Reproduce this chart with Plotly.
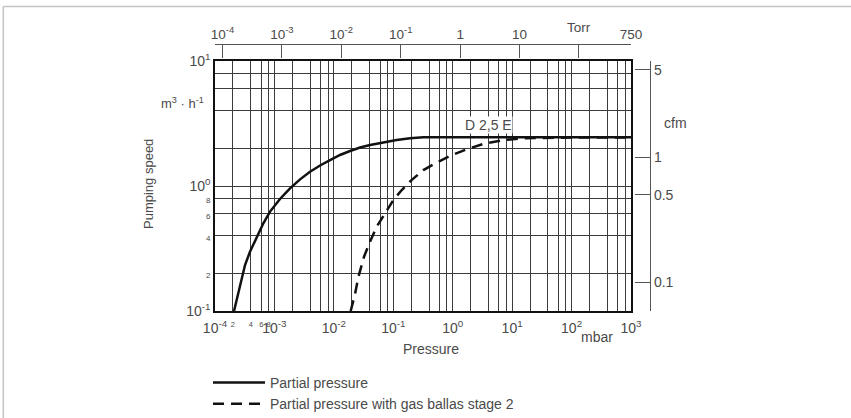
import math
import plotly.graph_objects as go

# ---------------- data ----------------
# Partial pressure curve: pressure [mbar] vs pumping speed [m3/h]
mbar_solid = [2.09e-4, 2.57e-4, 3.20e-4, 3.88e-4, 5.02e-4, 6.51e-4, 8.44e-4,
              1.24e-3, 1.83e-3, 2.70e-3, 3.97e-3, 5.86e-3, 8.63e-3, 0.0127,
              0.0187, 0.0276, 0.0407, 0.0682, 0.114, 0.192, 0.321, 1.0, 10.0,
              100.0, 1000.0]
speed_solid = [0.10, 0.152, 0.233, 0.298, 0.393, 0.503, 0.624, 0.787, 0.958,
               1.13, 1.30, 1.46, 1.61, 1.77, 1.905, 2.03, 2.13, 2.24, 2.33,
               2.41, 2.45, 2.45, 2.45, 2.45, 2.45]

# Partial pressure with gas ballast stage 2
mbar_gas = [0.0192, 0.0228, 0.0259, 0.0322, 0.0407, 0.0527, 0.0728, 0.1005,
            0.139, 0.205, 0.321, 0.539, 0.904, 1.73, 3.29, 7.14, 15.5, 33.6,
            100.0, 1000.0]
speed_gas = [0.10, 0.138, 0.188, 0.272, 0.359, 0.473, 0.604, 0.773, 0.929,
             1.12, 1.34, 1.54, 1.74, 1.97, 2.17, 2.33, 2.41, 2.43, 2.44, 2.44]

series_names = ["Partial pressure", "Partial pressure with gas ballas stage 2"]

# axis tick values / labels
x_decades = [-4, -3, -2, -1, 0, 1, 2, 3]
x_minor_mult = [2, 4, 6, 8]
y_decades = [-1, 0, 1]
y_minor_mult = [2, 4, 6, 8]
torr_ticks = [1e-4, 1e-3, 1e-2, 1e-1, 1, 10, 100, 750]
torr_labels = ["10<sup>-4</sup>", "10<sup>-3</sup>", "10<sup>-2</sup>",
               "10<sup>-1</sup>", "1", "10", "", "750"]
cfm_ticks = [5, 1, 0.5, 0.1]
cfm_labels = ["5", "1", "0.5", "0.1"]

MBAR_PER_TORR = 1.33322
CFM_PER_M3H = 0.588578

# ---------------- styling ----------------
FONT = "Liberation Sans, Arial, sans-serif"
TXT = "#4a4a4a"
GRID = "#3c3c3c"
W, H = 851, 418
PLOT_L, PLOT_R, PLOT_T, PLOT_B = 215, 631, 61, 311
AREA_T, AREA_R = 40, 660     # plotting area (room for the free axes)
ML, MR, MT, MB = PLOT_L, W - AREA_R, AREA_T, H - PLOT_B
PW = W - ML - MR
PH = H - MT - MB


def px_x(px):
    return (px - PLOT_L) / PW


def px_y(py):
    return (PLOT_B - py) / PH


x_dom = [0, px_x(PLOT_R)]
y_dom = [0, px_y(PLOT_T)]


def small_x(s):
    return '<sup><span style="font-size:7.5px">%s</span></sup>' % s


def small_y(s):
    return '<span style="font-size:8px">%s</span>' % s


# x tick values (grid) and labels
x_tv, x_tt = [], []
for d in x_decades:
    x_tv.append(10.0 ** d)
    x_tt.append("10<sup>%d</sup>" % d)
    if d < 3:
        for m in x_minor_mult:
            x_tv.append(m * 10.0 ** d)
            x_tt.append(small_x(str(m)) if d == -4 else "")

y_tv, y_tt = [], []
for d in y_decades:
    y_tv.append(10.0 ** d)
    y_tt.append("10<sup>%d</sup>" % d)
    if d < 1:
        for m in y_minor_mult:
            y_tv.append(m * 10.0 ** d)
            y_tt.append(small_y(str(m)) if d == -1 else "")

fig = go.Figure()
fig.add_trace(go.Scatter(x=mbar_solid, y=speed_solid, mode="lines",
                         name=series_names[0],
                         line=dict(color="#111111", width=2.5)))
fig.add_trace(go.Scatter(x=mbar_gas, y=speed_gas, mode="lines",
                         name=series_names[1],
                         line=dict(color="#111111", width=2.5, dash="11px,7px")))
# register secondary axes
fig.add_trace(go.Scatter(x=[], y=[], xaxis="x2", yaxis="y", showlegend=False,
                         hoverinfo="skip"))
fig.add_trace(go.Scatter(x=[], y=[], xaxis="x", yaxis="y2", showlegend=False,
                         hoverinfo="skip"))

xr = [-4, 3]
yr = [-1, 1]
torr_r = [xr[0] - math.log10(MBAR_PER_TORR), xr[1] - math.log10(MBAR_PER_TORR)]
cfm_r = [yr[0] + math.log10(CFM_PER_M3H), yr[1] + math.log10(CFM_PER_M3H)]

tick_font = dict(family=FONT, size=14, color=TXT)
top_font = dict(family=FONT, size=13.5, color=TXT)

fig.update_layout(
    width=W, height=H,
    margin=dict(l=ML, r=MR, t=MT, b=MB, pad=0, autoexpand=False),
    paper_bgcolor="white", plot_bgcolor="white",
    font=dict(family=FONT, size=14, color=TXT),
    xaxis=dict(type="log", range=xr, domain=x_dom, anchor="y",
               tickmode="array", tickvals=x_tv, ticktext=x_tt, tickangle=0,
               ticks="", ticklabelstandoff=3,
               showgrid=True, gridcolor=GRID, gridwidth=1,
               showline=True, linecolor="#111111", linewidth=1.5, mirror=True,
               tickfont=tick_font, zeroline=False, automargin=False),
    yaxis=dict(type="log", range=yr, domain=y_dom, anchor="x",
               tickmode="array", tickvals=y_tv, ticktext=y_tt,
               ticks="", showgrid=True, gridcolor=GRID, gridwidth=1,
               showline=True, linecolor="#111111", linewidth=1.5, mirror=True,
               tickfont=tick_font, zeroline=False, automargin=False),
    xaxis2=dict(type="log", range=torr_r, domain=x_dom, overlaying="x",
                side="top", anchor="free", position=px_y(44), tickangle=0,
                tickmode="array", tickvals=torr_ticks, ticktext=torr_labels,
                ticks="inside", ticklen=13, tickcolor="#555555", tickwidth=1.2,
                showgrid=False, showline=True, linecolor="#555555",
                linewidth=1.2, tickfont=top_font, zeroline=False,
                automargin=False),
    yaxis2=dict(type="log", range=cfm_r, overlaying="y", side="right",
                anchor="free", position=px_x(650),
                tickmode="array",
                tickvals=cfm_ticks + [10 ** cfm_r[0], 10 ** cfm_r[1]],
                ticktext=cfm_labels + ["", ""],
                ticks="inside", ticklen=15, tickcolor="#555555", tickwidth=1.2,
                showgrid=False, showline=True, linecolor="#555555",
                linewidth=1.2, tickfont=tick_font, zeroline=False,
                automargin=False),
    legend=dict(x=px_x(208), y=px_y(367), xanchor="left", yanchor="top",
                font=dict(family=FONT, size=14, color=TXT), itemwidth=52,
                bgcolor="rgba(0,0,0,0)", tracegroupgap=0),
    showlegend=True,
)


def label(text, xref, yref, x, y, size=14, **kw):
    d = dict(text=text, xref=xref, yref=yref, x=x, y=y, showarrow=False,
             xanchor="center", yanchor="middle", font=dict(size=size))
    d.update(kw)
    return d


ann = [
    label("D 2,5 E", "x", "y", math.log10(3.94), math.log10(3.07),
          bgcolor="white", borderpad=0),
    label("Pressure", "paper", "paper", px_x(430.5), px_y(349)),
    label("mbar", "paper", "paper", px_x(597), px_y(337)),
    label("Pumping speed", "paper", "paper", px_x(148), px_y(184),
          textangle=-90, size=13),
    label("m<sup>3</sup> · h<sup>-1</sup>", "paper", "paper", px_x(182.5),
          px_y(103), size=13),
    label("cfm", "paper", "paper", px_x(675), px_y(123)),
    label("Torr", "x2", "paper", 2, px_y(28), size=13.5),
]
fig.update_layout(annotations=ann)

# light frame (top and left) around the figure
fig.add_shape(type="line", xref="paper", yref="paper", x0=px_x(3), x1=px_x(W),
              y0=px_y(6.5), y1=px_y(6.5), line=dict(color="#c4c4c4", width=1.5))
fig.add_shape(type="line", xref="paper", yref="paper", x0=px_x(3.3), x1=px_x(3.3),
              y0=px_y(6.5), y1=px_y(H), line=dict(color="#c4c4c4", width=1.5))

page_css = (
    "var h=document.documentElement.style;h.margin='0';h.padding='0';"
    "h.overflow='hidden';"
    "var b=document.body.style;b.margin='0';b.padding='0';b.overflow='hidden';"
)

fig.write_html("out.html", config={"displayModeBar": False},
               post_script=page_css)
